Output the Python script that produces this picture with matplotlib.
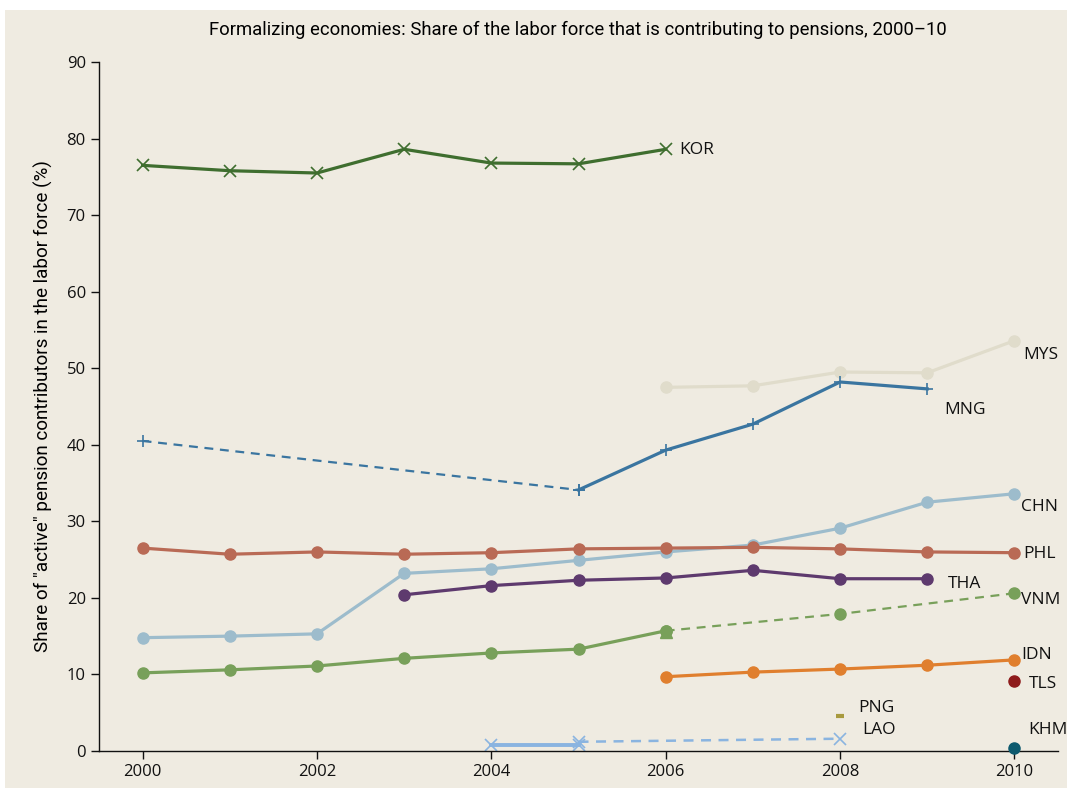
import matplotlib
matplotlib.use("Agg")
import matplotlib.pyplot as plt
from matplotlib.patches import Rectangle

# ---- data ----
years = list(range(2000, 2011))
kor_x = [2000, 2001, 2002, 2003, 2004, 2005, 2006]
kor_y = [76.5, 75.8, 75.5, 78.6, 76.8, 76.7, 78.6]
mys_x = [2006, 2007, 2008, 2009, 2010]
mys_y = [47.5, 47.7, 49.5, 49.4, 53.6]
mng_dash_x = [2000, 2005]
mng_dash_y = [40.5, 34.1]
mng_x = [2005, 2006, 2007, 2008, 2009]
mng_y = [34.1, 39.3, 42.7, 48.2, 47.3]
chn_x = years
chn_y = [14.8, 15.0, 15.3, 23.2, 23.8, 24.9, 26.0, 26.9, 29.1, 32.5, 33.6]
phl_x = years
phl_y = [26.5, 25.7, 26.0, 25.7, 25.9, 26.4, 26.5, 26.6, 26.4, 26.0, 25.9]
tha_x = [2003, 2004, 2005, 2006, 2007, 2008, 2009]
tha_y = [20.4, 21.6, 22.3, 22.6, 23.6, 22.5, 22.5]
vnm_x = [2000, 2001, 2002, 2003, 2004, 2005, 2006]
vnm_y = [10.2, 10.6, 11.1, 12.1, 12.8, 13.3, 15.7]
vnm_dash_x = [2006, 2008, 2010]
vnm_dash_y = [15.7, 17.9, 20.6]
idn_x = [2006, 2007, 2008, 2009, 2010]
idn_y = [9.7, 10.3, 10.7, 11.2, 11.9]
tls_x, tls_y = [2010], [9.1]
khm_x, khm_y = [2010], [0.4]
png_x, png_y = [2008], [4.6]
lao_x = [2004, 2005]
lao_y = [0.8, 0.8]
lao_dash_x = [2005, 2008]
lao_dash_y = [1.2, 1.6]

labels = ["KOR", "MYS", "MNG", "CHN", "PHL", "THA", "VNM", "IDN", "TLS", "PNG", "LAO", "KHM"]
label_x = [2006.15, 2010.1, 2009.19, 2010.08, 2010.1, 2009.24, 2010.08, 2010.08, 2010.16, 2008.21, 2008.25, 2010.16]
label_y = [78.5, 51.7, 44.5, 31.9, 25.7, 21.8, 19.7, 12.5, 8.75, 5.6, 2.7, 2.7]

title = "Formalizing economies: Share of the labor force that is contributing to pensions, 2000\u201310"
ylabel = 'Share of "active" pension contributors in the labor force (%)'

# ---- style ----
bg = "#efebe1"
c = {
    "KOR": "#3f6e2f", "MYS": "#e0dccb", "MNG": "#3a75a0", "CHN": "#9dbccc",
    "PHL": "#b96a55", "THA": "#5e3a6e", "VNM": "#78a05a", "IDN": "#e07f2e",
    "TLS": "#8e1b1b", "KHM": "#0d5a6e", "PNG": "#a89a3e", "LAO": "#8ab4e0",
}
lw = 2.3
ms = 8

fig = plt.figure(figsize=(10.67, 7.88), dpi=100)
fig.patch.set_facecolor("white")
fig.patches.append(Rectangle((0.005, 0), 0.995, 0.987, transform=fig.transFigure,
                             facecolor=bg, edgecolor="none", zorder=-10))
ax = fig.add_axes([0.0928, 0.047, 0.8988, 0.8743])
ax.set_facecolor(bg)

ax.plot(kor_x, kor_y, color=c["KOR"], lw=lw, marker="x", ms=ms, mew=1.2)
ax.plot(mys_x, mys_y, color=c["MYS"], lw=lw, marker="o", ms=ms)
ax.plot(mng_dash_x, mng_dash_y, color=c["MNG"], lw=1.6, ls=(0, (4, 3)), marker="+", ms=ms, mew=1.2)
ax.plot(mng_x, mng_y, color=c["MNG"], lw=lw, marker="+", ms=ms + 1, mew=1.2)
ax.plot(chn_x, chn_y, color=c["CHN"], lw=lw, marker="o", ms=ms)
ax.plot(phl_x, phl_y, color=c["PHL"], lw=lw, marker="o", ms=ms)
ax.plot(tha_x, tha_y, color=c["THA"], lw=lw, marker="o", ms=ms)
ax.plot(vnm_dash_x, vnm_dash_y, color=c["VNM"], lw=1.6, ls=(0, (4, 3)), marker="o", ms=ms)
ax.plot(vnm_x, vnm_y, color=c["VNM"], lw=lw, marker="o", ms=ms)
ax.plot([vnm_x[-1]], [vnm_y[-1] - 0.2], color=c["VNM"], marker="^", ms=ms, ls="none")
ax.plot(idn_x, idn_y, color=c["IDN"], lw=lw, marker="o", ms=ms)
ax.plot(tls_x, tls_y, color=c["TLS"], marker="o", ms=ms, ls="none")
ax.plot(khm_x, khm_y, color=c["KHM"], marker="o", ms=ms, ls="none", clip_on=False, zorder=5)
ax.plot(png_x, png_y, color=c["PNG"], marker="_", ms=6, mew=3, ls="none")
ax.plot(lao_dash_x, lao_dash_y, color=c["LAO"], lw=1.8, ls=(0, (4, 3)), marker="x", ms=ms, mew=1.2)
ax.plot(lao_x, lao_y, color=c["LAO"], lw=lw + 0.5, marker="x", ms=ms, mew=1.2)

for lab, lx, ly in zip(labels, label_x, label_y):
    ax.text(lx, ly, lab, fontsize=12.5, family="Open Sans", ha="left", va="center", color="#111111")

ax.set_xlim(1999.5, 2010.5)
ax.set_ylim(0, 90)
ax.set_xticks([2000, 2002, 2004, 2006, 2008, 2010])
ax.set_yticks(range(0, 91, 10))
ax.tick_params(labelsize=12, direction="out", length=6, width=1, colors="#111111")
for t in ax.get_xticklabels() + ax.get_yticklabels():
    t.set_family("Open Sans")
for s in ["top", "right"]:
    ax.spines[s].set_visible(False)
for s in ["left", "bottom"]:
    ax.spines[s].set_linewidth(1)
    ax.spines[s].set_color("#111111")

ax.set_ylabel(ylabel, fontsize=13.6, family="Roboto", labelpad=10)
fig.text(0.542, 0.962, title, fontsize=13.3, family="Roboto", ha="center", va="center")

fig.savefig("out.png", dpi=100, facecolor=fig.get_facecolor())
